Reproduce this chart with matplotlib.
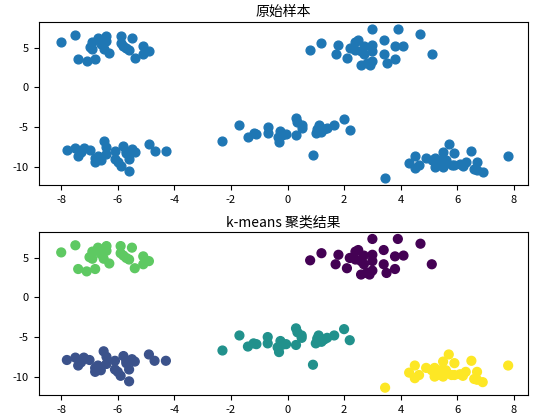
import matplotlib
matplotlib.use("Agg")
import matplotlib.pyplot as plt
import numpy as np

plt.rcParams['font.family'] = ['Noto Sans CJK SC', 'DejaVu Sans']
plt.rcParams['axes.unicode_minus'] = False

cluster_tl = [(-8.0,5.7),(-7.5,6.6),(-7.4,3.6),(-7.1,3.3),(-7.0,5.1),(-6.9,5.8),(-6.9,4.9),(-6.8,3.6),
              (-6.7,6.3),(-6.6,5.5),(-6.5,4.9),(-6.4,6.5),(-6.4,5.9),(-6.3,4.3),(-5.9,6.5),(-5.9,5.6),
              (-5.8,5.3),(-5.7,5.0),(-5.6,4.8),(-5.5,6.3),(-5.4,3.7),(-5.1,4.2),(-5.1,5.2),(-4.9,4.6)]
cluster_tr = [(0.8,4.7),(1.2,5.6),(1.7,4.2),(1.8,5.4),(2.1,3.7),(2.2,5.0),(2.4,5.8),(2.5,6.0),(2.4,4.8),
              (2.6,4.6),(2.7,5.3),(2.6,2.9),(2.7,4.2),(2.8,3.1),(2.9,2.9),(3.0,3.4),(3.0,4.6),(3.0,5.4),
              (3.0,7.4),(3.4,6.0),(3.4,4.2),(3.5,3.1),(3.8,3.6),(3.8,5.2),(3.9,7.4),(4.1,5.3),(4.7,6.8),(5.1,4.2)]
cluster_mid = [(-2.3,-6.7),(-1.7,-4.8),(-1.4,-6.2),(-1.2,-5.8),(-1.1,-5.9),(-0.7,-5.0),(-0.7,-5.8),
               (-0.35,-6.3),(-0.3,-6.9),(-0.25,-5.5),(-0.2,-6.0),(-0.05,-5.9),(0.3,-6.0),(0.3,-3.9),
               (0.35,-4.4),(0.5,-4.8),(0.5,-5.1),(0.9,-8.5),(1.0,-5.8),(1.05,-5.2),(1.1,-4.8),(1.2,-5.6),
               (1.3,-5.3),(1.4,-5.1),(1.65,-4.8),(2.0,-4.0),(2.2,-5.4)]
cluster_bl = [(-7.8,-7.9),(-7.5,-7.6),(-7.4,-8.6),(-7.3,-8.2),(-7.2,-7.6),(-7.0,-7.9),(-6.8,-8.9),(-6.8,-9.4),
              (-6.7,-8.6),(-6.6,-9.2),(-6.5,-6.8),(-6.4,-7.5),(-6.4,-8.4),(-6.1,-9.1),(-6.1,-8.0),(-6.0,-9.4),
              (-5.9,-9.9),(-5.8,-7.4),(-5.7,-8.0),(-5.7,-8.3),(-5.6,-9.1),(-5.6,-10.6),(-5.5,-7.8),(-5.4,-8.1),
              (-4.9,-7.2),(-4.7,-8.0),(-4.3,-8.0)]
cluster_br = [(3.45,-11.4),(4.3,-9.5),(4.5,-8.6),(4.5,-10.2),(4.65,-9.8),(4.9,-8.9),(5.1,-9.2),(5.2,-10.0),
              (5.2,-8.9),(5.3,-9.8),(5.4,-9.2),(5.5,-10.0),(5.5,-8.1),(5.6,-9.6),(5.6,-9.2),(5.7,-7.2),
              (5.8,-9.8),(5.9,-8.3),(5.9,-9.8),(6.1,-9.7),(6.2,-9.9),(6.3,-9.4),(6.5,-8.0),(6.6,-10.3),
              (6.7,-10.4),(6.7,-9.4),(6.9,-10.7),(7.8,-8.6)]

# k-means labels per cluster (viridis order)
cluster_labels = {"tr": 0, "bl": 1, "mid": 2, "tl": 3, "br": 4}
groups = [("tl", cluster_tl), ("tr", cluster_tr), ("mid", cluster_mid), ("bl", cluster_bl), ("br", cluster_br)]

pts = np.array([p for _, g in groups for p in g])
labels = np.array([cluster_labels[n] for n, g in groups for _ in g])

fig = plt.figure(figsize=(5.36, 4.2), dpi=100)
ax1 = fig.add_axes([0.072, 0.56, 0.913, 0.388])
ax2 = fig.add_axes([0.072, 0.06, 0.913, 0.388])

ax1.scatter(pts[:, 0], pts[:, 1], s=40, color='#1f77b4')
ax1.set_title('原始样本', fontsize=10, pad=4)
ax2.scatter(pts[:, 0], pts[:, 1], s=40, c=labels, cmap='viridis')
ax2.set_title('k-means 聚类结果', fontsize=10, pad=4)

for ax in (ax1, ax2):
    ax.set_xlim(-8.8, 8.5)
    ax.set_ylim(-12.3, 8.3)
    ax.set_xticks([-8, -6, -4, -2, 0, 2, 4, 6, 8])
    ax.set_yticks([5, 0, -5, -10])
    ax.tick_params(labelsize=8)

fig.savefig('out.png', dpi=100)
